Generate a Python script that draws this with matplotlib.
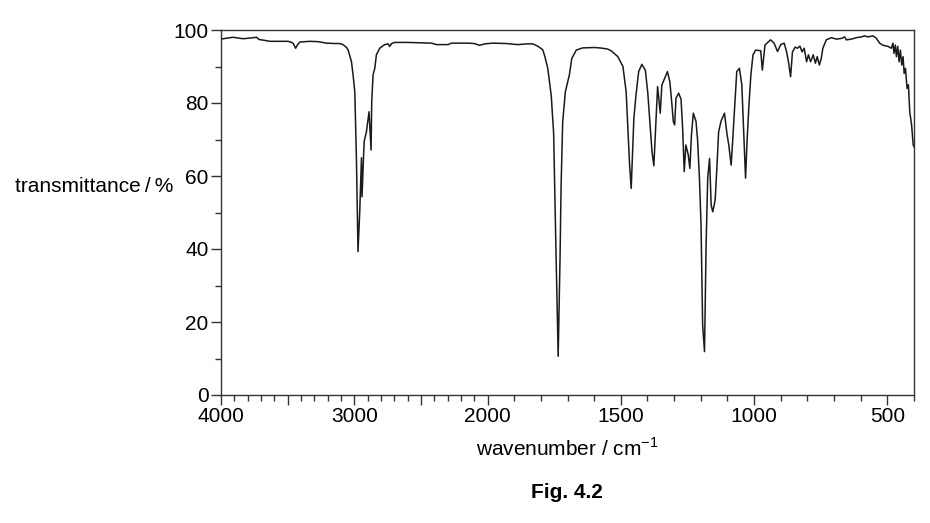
import numpy as np
import matplotlib
matplotlib.use("Agg")
import matplotlib.pyplot as plt
from matplotlib.ticker import FixedLocator

plt.rcParams['font.family'] = ['Liberation Sans', 'DejaVu Sans']
plt.rcParams['mathtext.fontset'] = 'custom'
plt.rcParams['mathtext.rm'] = 'Liberation Sans'

# IR spectrum: wavenumber (cm-1) and transmittance (%)
wavenumber = [
    4000, 3950, 3908, 3870, 3833, 3780, 3733, 3715, 3680, 3633, 3558, 3496,
    3470, 3458, 3440, 3425, 3408, 3333, 3270, 3208, 3150, 3109, 3084, 3058,
    3046, 3021, 3009, 2996, 2984, 2972, 2959, 2946, 2942, 2926, 2909, 2889,
    2874, 2869, 2859, 2846, 2834, 2809, 2772, 2745, 2734, 2720, 2697, 2600,
    2500, 2420, 2384, 2297, 2270, 2150, 2100, 2060, 2020, 1981, 1930, 1887,
    1850, 1830, 1810, 1793, 1786, 1774, 1761, 1752, 1746, 1735, 1728, 1724,
    1718, 1708, 1693, 1684, 1667, 1643, 1600, 1580, 1550, 1536, 1511, 1492,
    1480, 1474, 1467, 1461, 1451, 1443, 1433, 1421, 1408, 1399, 1390, 1383,
    1376, 1368, 1362, 1352, 1346, 1333, 1325, 1316, 1310, 1303, 1298, 1293,
    1283, 1274, 1268, 1262, 1256, 1247, 1241, 1235, 1228, 1218, 1212, 1205,
    1199, 1193, 1186, 1180, 1174, 1167, 1161, 1155, 1146, 1139, 1133, 1124,
    1111, 1102, 1095, 1086, 1080, 1074, 1065, 1055, 1046, 1040, 1032, 1026,
    1020, 1012, 1004, 994, 975, 969, 959, 938, 925, 912, 900, 887,
    878, 871, 863, 856, 846, 837, 828, 820, 812, 803, 796, 788,
    778, 770, 763, 755, 748, 742, 729, 710, 691, 672, 660, 654,
    635, 616, 598, 585, 573, 554, 541, 529, 516, 497, 485, 479,
    475, 470, 466, 461, 456, 451, 446, 441, 437, 432, 426, 421,
    416, 409, 403, 400,
]
transmittance = [
    97.5, 97.8, 98.0, 97.8, 97.6, 97.8, 98.0, 97.4, 97.2, 96.9, 96.9, 96.9,
    96.6, 96.3, 95.0, 96.0, 96.7, 96.9, 96.8, 96.4, 96.3, 96.3, 96.0, 95.2,
    94.5, 91.3, 87.7, 83.0, 65.0, 39.3, 50.2, 65.0, 54.3, 69.4, 72.1, 77.6,
    67.1, 80.4, 87.7, 89.5, 93.2, 95.0, 96.0, 96.2, 95.5, 96.3, 96.6, 96.6,
    96.5, 96.4, 96.0, 96.0, 96.4, 96.4, 96.3, 95.8, 96.2, 96.4, 96.3, 96.0,
    96.2, 96.2, 95.5, 94.6, 93.0, 89.5, 82.0, 71.7, 49.3, 10.6, 37.5, 57.5,
    74.9, 83.1, 87.7, 92.2, 94.5, 95.1, 95.2, 95.1, 94.8, 94.3, 92.7, 90.0,
    83.1, 74.0, 63.0, 56.6, 75.8, 82.2, 88.6, 90.6, 89.0, 83.0, 74.0, 66.7,
    62.8, 74.9, 84.5, 77.2, 84.9, 87.2, 88.6, 85.8, 81.1, 74.9, 74.0, 81.3,
    82.7, 81.0, 73.0, 61.2, 68.5, 65.8, 62.1, 71.2, 77.2, 75.0, 69.9, 59.4,
    46.6, 19.2, 11.9, 41.1, 59.4, 64.8, 52.0, 50.2, 53.4, 63.0, 72.1, 75.0,
    77.2, 71.7, 68.5, 63.0, 70.0, 77.6, 88.6, 89.5, 85.0, 74.0, 59.4, 70.0,
    78.5, 87.7, 93.2, 94.5, 94.3, 89.0, 95.9, 97.3, 96.4, 94.1, 96.0, 96.4,
    94.0, 91.3, 87.2, 94.0, 95.3, 95.0, 95.6, 94.0, 95.0, 91.3, 93.2, 91.3,
    93.2, 90.9, 92.7, 90.4, 92.2, 95.0, 97.3, 97.9, 97.5, 97.7, 98.1, 97.3,
    97.5, 97.9, 98.1, 98.4, 98.1, 98.4, 97.7, 96.4, 95.8, 95.5, 95.0, 96.4,
    93.6, 95.9, 92.7, 95.5, 91.3, 94.5, 90.4, 92.7, 88.1, 89.5, 84.0, 85.0,
    77.6, 74.0, 68.5, 68.0,
]

major_ticks = [4000, 3500, 3000, 2500, 2000, 1500, 1000, 500]
tick_labels = ['4000', '', '3000', '', '2000', '1500', '1000', '500']
minor_ticks = [w for w in range(4000, 399, -100) if w not in major_ticks]


# scale changes at 2000 cm-1: 1000 per unit above, 500 per unit below
def forward(x):
    x = np.asarray(x, dtype=float)
    return np.where(x >= 2000, (x - 2000) / 1000.0, (x - 2000) / 500.0)


def inverse(u):
    u = np.asarray(u, dtype=float)
    return np.where(u >= 0, 2000 + 1000.0 * u, 2000 + 500.0 * u)


fig = plt.figure(figsize=(9.3, 5.23), dpi=100)
ax = fig.add_axes([221 / 930, 1 - 395 / 523, 693 / 930, 365 / 523])

ax.plot(wavenumber, transmittance, color='#1a1a1a', linewidth=1.1)

ax.set_xscale('function', functions=(forward, inverse))
ax.set_xlim(4000, 400)
ax.set_ylim(0, 100)

ax.xaxis.set_major_locator(FixedLocator(major_ticks))
ax.set_xticklabels(tick_labels)
ax.xaxis.set_minor_locator(FixedLocator(minor_ticks))
ax.set_yticks(range(0, 101, 20))
ax.set_yticks(range(10, 100, 20), minor=True)

ax.tick_params(which='both', direction='out', width=1.0, color='#333333',
               labelsize=15, top=False, right=False)
ax.tick_params(which='major', length=7, pad=2)
ax.tick_params(which='minor', length=4)

for side in ax.spines.values():
    side.set_linewidth(1.0)
    side.set_color('#333333')

fig.text(15 / 930, 1 - 186 / 523, 'transmittance\u2009/\u2009%', fontsize=15,
         ha='left', va='center')
fig.text(567 / 930, 1 - 448 / 523, r'wavenumber / cm$^{\mathrm{-1}}$',
         fontsize=15, ha='center', va='center')
fig.text(567 / 930, 1 - 492 / 523, 'Fig. 4.2', fontsize=15, fontweight='bold',
         ha='center', va='center')

fig.savefig('out.png', dpi=100)
